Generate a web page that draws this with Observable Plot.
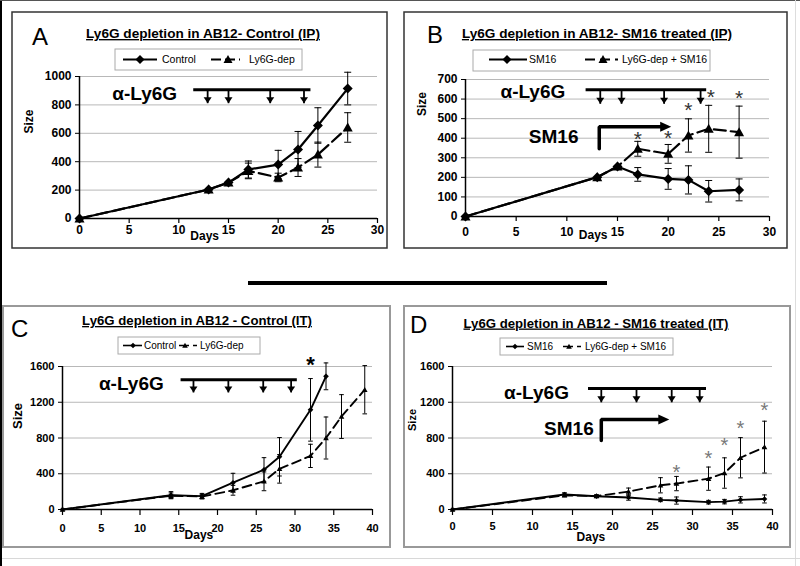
<!DOCTYPE html>
<html><head><meta charset="utf-8">
<script src="https://cdn.jsdelivr.net/npm/d3@7"></script>
<script src="https://cdn.jsdelivr.net/npm/@observablehq/plot@0.6"></script>
<style>
body{margin:0;background:#fff;}
#fig{position:relative;width:800px;height:566px;overflow:hidden;background:#fff;font-family:"Liberation Sans",Arial,sans-serif;}
#fig > svg{position:absolute;}
</style></head><body><div id="fig"></div>
<script>
// ---------- shared tick labels ----------
const xTicksAB = [0,5,10,15,20,25,30];
const xTicksCD = [0,5,10,15,20,25,30,35,40];
const yTicksA = [0,200,400,600,800,1000];
const yTicksB = [0,100,200,300,400,500,600,700];
const yTicksCD = [0,400,800,1200,1600];

const titles = ["Ly6G depletion in AB12- Control (IP)","Ly6G depletion in AB12- SM16 treated (IP)","Ly6G depletion in AB12 - Control (IT)","Ly6G depletion in AB12 - SM16 treated (IT)"];
const letters = ["A","B","C","D"];
const seriesControl = ["Control","Ly6G-dep"];
const seriesSM16 = ["SM16","Ly6G-dep + SM16"];
const xLabel = "Days", yLabel = "Size";
const antiLabel = "α-Ly6G", sm16Label = "SM16", starLabel = "*";

// ---------- panel A ----------
const daysA = [0,13,15,17,20,22,24,27];
const controlA = [0,204,253,345,380,486,655,915];
const controlErrA = [0,0,0,60,100,127,125,115];
const depA = [0,204,253,335,289,359,450,641];
const depErrA = [0,0,0,55,30,63,88,104];
const injA = [12.9,15.0,19.2,22.6];
const barA = [11.5,23.3,906]; const tipA = 812; const antiPosA = [3.3,878];

// ---------- panel B ----------
const daysB = [0,13,15,17,20,22,24,27];
const sm16B = [0,201,255,215,192,187,129,136];
const sm16ErrB = [0,0,0,35,53,72,55,56];
const depSm16B = [0,201,255,346,320,414,448,431];
const depSm16ErrB = [0,0,0,38,48,85,120,133];
const starDaysB = [17,20,22,24.2,27];
const starYB = [426,428,571,640,632];
const injB = [13.3,15.4,19.6,23.2];
const barB = [11.9,23.8,647]; const tipB = 576; const antiPosB = [3.45,635];
const sm16PosB = [6.25,405]; const sm16ArrowB = [13.2,346,458,20.3];

// ---------- panel C ----------
const daysControlC = [0,14,18,22,26,28,32,34];
const controlC = [0,160,150,300,445,590,1115,1490];
const controlErrC = [0,40,30,105,135,215,350,150];
const daysDepC = [0,14,18,22,26,28,32,34,36,39];
const depC = [0,155,145,215,315,455,600,800,1040,1340];
const depErrC = [0,30,25,55,105,160,130,235,245,270];
const starDaysC = [32]; const starYC = [1680];
const injC = [16.9,21.4,25.9,29.5];
const barC = [15.3,30.3,1451]; const tipC = 1310; const antiPosC = [4.7,1404];

// ---------- panel D ----------
const daysD = [0,14,18,22,26,28,32,34,36,39];
const sm16D = [0,168,148,134,108,100,82,88,108,118];
const sm16ErrD = [0,20,15,30,20,40,20,25,35,45];
const depSm16D = [0,158,150,200,271,290,345,408,579,698];
const depSm16ErrD = [0,15,15,40,85,80,130,170,225,290];
const starDaysD = [28,32,34,36,39];
const starYD = [475,631,780,965,1162];
const injD = [18.6,23.0,27.4,30.9];
const barD = [17.0,31.75,1355]; const tipD = 1199; const antiPosD = [6.45,1310];
const sm16PosD = [11.45,902]; const sm16ArrowD = [18.6,772,1006,27.1];

// ---------- custom symbols ----------
const rad = s => Math.sqrt(s/Math.PI);
const diamondSym = {draw(c,s){const w=rad(s);c.moveTo(0,-w);c.lineTo(w,0);c.lineTo(0,w);c.lineTo(-w,0);c.closePath();}};
const triSym = {draw(c,s){const w=rad(s);c.moveTo(0,-w);c.lineTo(w,w*0.8);c.lineTo(-w,w*0.8);c.closePath();}};
const capSym = {draw(c,s){const w=rad(s);c.moveTo(-w,0);c.lineTo(w,0);}};
const arrowDown = {draw(c,s){const w=rad(s);c.moveTo(0,0);c.lineTo(-w,-w*1.5);c.lineTo(w,-w*1.5);c.closePath();}};
const arrowRight = {draw(c,s){const w=rad(s);c.moveTo(0,0);c.lineTo(-w*2.2,-w);c.lineTo(-w*2.2,w);c.closePath();}};

function seriesMarks(days, vals, errs, st) {
  const rows = days.map((d,i)=>({day:d, v:vals[i], e:errs[i]}));
  const er = rows.filter(r=>r.e>0);
  return [
    Plot.ruleX(er, {x:"day", y1:r=>r.v-r.e, y2:r=>r.v+r.e, stroke:"black", strokeWidth:1}),
    Plot.dot(er, {x:"day", y:r=>r.v+r.e, symbol:capSym, r:st.cap, stroke:"black", strokeWidth:1, fill:"none"}),
    Plot.dot(er, {x:"day", y:r=>r.v-r.e, symbol:capSym, r:st.cap, stroke:"black", strokeWidth:1, fill:"none"}),
    Plot.line(rows, {x:"day", y:"v", stroke:"black", strokeWidth:st.lw, strokeDasharray:st.dash}),
    Plot.dot(rows, {x:"day", y:"v", symbol:st.sym, r:st.r, fill:"black", stroke:"none"})
  ];
}

function annotationMarks(a) {
  const m = [
    Plot.text([a.antiPos], {x:d=>d[0], y:d=>d[1], text:()=>antiLabel, textAnchor:"start", fontSize:19, fontWeight:"bold"}),
    Plot.ruleY([a.bar], {y:d=>d[2], x1:d=>d[0], x2:d=>d[1], stroke:"black", strokeWidth:3}),
    Plot.link(a.inj, {x1:d=>d, x2:d=>d, y1:a.bar[2], y2:a.tip, stroke:"black", strokeWidth:1.8}),
    Plot.dot(a.inj, {x:d=>d, y:a.tip, symbol:arrowDown, r:4, fill:"black", stroke:"none"})
  ];
  if (a.sm16Pos) {
    const [x0,y0,y1,x1] = a.sm16Arrow;
    m.push(Plot.text([a.sm16Pos], {x:d=>d[0], y:d=>d[1], text:()=>sm16Label, textAnchor:"start", fontSize:19, fontWeight:"bold"}));
    m.push(Plot.line([[x0,y0],[x0,y1],[x1-a.headDays,y1]], {x:d=>d[0], y:d=>d[1], stroke:"black", strokeWidth:3.5, strokeLinejoin:"miter"}));
    m.push(Plot.dot([[x1,y1]], {x:d=>d[0], y:d=>d[1], symbol:arrowRight, r:5, fill:"black", stroke:"none"}));
  }
  if (a.starDays) {
    const st = a.starDays.map((d,i)=>({day:d, y:a.starY[i]}));
    m.push(Plot.text(st, {x:"day", y:"y", text:()=>starLabel, fontSize:a.starSize, fontWeight:a.starWeight, fill:a.starColor, dy:a.starSize*0.27}));
  }
  return m;
}

function panel(o) {
  const marks = [
    Plot.gridY(o.yTicks, {stroke:"#b8b8b8", strokeOpacity:1, strokeWidth:1}),
    Plot.axisY(o.yTicks, {tickSize:4, tickPadding:4, tickFormat:d=>String(d), label:null, fontSize:o.tickFont, fontWeight:"bold"}),
    Plot.axisX(o.xTicks, {tickSize:o.xTickSize, tickPadding:o.xTickPad, tickFormat:d=>String(d), label:null, fontSize:o.tickFont, fontWeight:"bold", strokeWidth:1.2}),
    Plot.ruleX([0], {stroke:"black", strokeWidth:1.5}),
    Plot.ruleY([0], {stroke:"black", strokeWidth:1.5}),
    Plot.text([xLabel], {x:o.daysX, frameAnchor:"bottom", dy:o.daysDy, fontSize:12, fontWeight:"bold"}),
    Plot.text([yLabel], {frameAnchor:"left", dx:o.sizeDx, dy:o.sizeDy, rotate:-90, fontSize:o.sizeFont, fontWeight:"bold"})
  ];
  o.series.forEach(s => marks.push(...seriesMarks(s.days, s.vals, s.errs, s)));
  marks.push(...annotationMarks(o.ann));
  const svg = Plot.plot({
    width:o.width, height:o.height,
    marginLeft:o.mL, marginRight:o.mR, marginTop:o.mT, marginBottom:o.mB,
    x:{type:"linear", domain:o.xDomain},
    y:{type:"linear", domain:o.yDomain},
    style:{fontFamily:"'Liberation Sans', Arial, sans-serif", fontSize:o.tickFont+"px", fontWeight:"bold", color:"black", background:"transparent", overflow:"visible"},
    marks
  });
  svg.style.left = o.left+"px"; svg.style.top = o.top+"px";
  svg.style.maxWidth = "none";
  document.getElementById("fig").appendChild(svg);
}

const stAB = {lw:2.2, cap:3.5, r:5};
const stCD = {lw:1.9, cap:2.3, r:2.8};

panel({left:12, top:12, width:375, height:236, mL:67, mR:10, mT:64, mB:30,
  xDomain:[0,30], yDomain:[0,1000], xTicks:xTicksAB, yTicks:yTicksA, tickFont:12, xTickSize:5, xTickPad:2,
  daysX:12.6, daysDy:21, sizeDx:-50, sizeDy:-14, sizeFont:12,
  series:[{days:daysA, vals:depA, errs:depErrA, sym:triSym, dash:"12,5", ...stAB},
          {days:daysA, vals:controlA, errs:controlErrA, sym:diamondSym, dash:null, ...stAB}],
  ann:{antiPos:antiPosA, bar:barA, inj:injA, tip:tipA}});

panel({left:404, top:12, width:383, height:236, mL:61, mR:18, mT:67, mB:32,
  xDomain:[0,30], yDomain:[0,700], xTicks:xTicksAB, yTicks:yTicksB, tickFont:12, xTickSize:5, xTickPad:6,
  daysX:12.6, daysDy:22, sizeDx:-43, sizeDy:-32, sizeFont:12,
  series:[{days:daysB, vals:depSm16B, errs:depSm16ErrB, sym:triSym, dash:"12,5", ...stAB},
          {days:daysB, vals:sm16B, errs:sm16ErrB, sym:diamondSym, dash:null, ...stAB}],
  ann:{antiPos:antiPosB, bar:barB, inj:injB, tip:tipB, sm16Pos:sm16PosB, sm16Arrow:sm16ArrowB, headDays:0.9,
       starDays:starDaysB, starY:starYB, starSize:21, starWeight:"normal", starColor:"#333"}});

panel({left:3, top:306, width:387, height:241, mL:59, mR:18, mT:60, mB:38,
  xDomain:[0,40], yDomain:[0,1600], xTicks:xTicksCD, yTicks:yTicksCD, tickFont:11, xTickSize:6, xTickPad:9,
  daysX:17.6, daysDy:29, sizeDx:-45, sizeDy:-9, sizeFont:13,
  series:[{days:daysDepC, vals:depC, errs:depErrC, sym:triSym, dash:"9,5", ...stCD},
          {days:daysControlC, vals:controlC, errs:controlErrC, sym:diamondSym, dash:null, ...stCD}],
  ann:{antiPos:antiPosC, bar:barC, inj:injC, tip:tipC,
       starDays:starDaysC, starY:starYC, starSize:22, starWeight:"bold", starColor:"black"}});

panel({left:404, top:306, width:386, height:241, mL:48, mR:18, mT:60, mB:38,
  xDomain:[0,40], yDomain:[0,1600], xTicks:xTicksCD, yTicks:yTicksCD, tickFont:11, xTickSize:6, xTickPad:7,
  daysX:17.3, daysDy:31, sizeDx:-40, sizeDy:-7, sizeFont:11,
  series:[{days:daysD, vals:depSm16D, errs:depSm16ErrD, sym:triSym, dash:"9,5", ...stCD},
          {days:daysD, vals:sm16D, errs:sm16ErrD, sym:diamondSym, dash:null, ...stCD}],
  ann:{antiPos:antiPosD, bar:barD, inj:injD, tip:tipD, sm16Pos:sm16PosD, sm16Arrow:sm16ArrowD, headDays:1.1,
       starDays:starDaysD, starY:starYD, starSize:20, starWeight:"normal", starColor:"#777"}});

// ---------- overlay: frame, boxes, titles, legends ----------
const ov = d3.select("#fig").append("svg").attr("width",800).attr("height",566)
  .style("left","0px").style("top","0px").style("pointer-events","none")
  .attr("font-family","'Liberation Sans', Arial, sans-serif");
ov.append("line").attr("x1",1).attr("x2",1).attr("y1",0).attr("y2",566).attr("stroke","black").attr("stroke-width",2);
ov.append("line").attr("x1",0).attr("x2",800).attr("y1",0.5).attr("y2",0.5).attr("stroke","#555").attr("stroke-width",1);
ov.append("line").attr("x1",795.5).attr("x2",795.5).attr("y1",0).attr("y2",566).attr("stroke","#ddd").attr("stroke-width",1);
ov.append("line").attr("x1",2).attr("x2",800).attr("y1",558.5).attr("y2",558.5).attr("stroke","#d8d8d8").attr("stroke-width",1);
ov.append("line").attr("x1",248).attr("x2",607).attr("y1",283).attr("y2",283).attr("stroke","black").attr("stroke-width",4);

const boxes = [[12,12,375,236,"#333",1.5],[404,12,383,236,"#333",1.5],[3,306,387,241,"#999",2],[404,306,386,241,"#999",2]];
boxes.forEach(b => ov.append("rect").attr("x",b[0]).attr("y",b[1]).attr("width",b[2]).attr("height",b[3]).attr("fill","none").attr("stroke",b[4]).attr("stroke-width",b[5]));

const titlePos = [[203,38],[597,38],[197,325],[596,327.5]];
const titleSize = [13.6,13.6,13.2,13.2];
titles.forEach((t,i)=> ov.append("text").attr("x",titlePos[i][0]).attr("y",titlePos[i][1]).attr("text-anchor","middle")
  .attr("font-size",titleSize[i]).attr("font-weight","bold").style("text-decoration","underline").text(t));
const letterPos = [[32,45],[427,43],[11,337],[410,333]];
letters.forEach((t,i)=> ov.append("text").attr("x",letterPos[i][0]).attr("y",letterPos[i][1]).attr("font-size",24).text(t));

function legend(L, names) {
  ov.append("rect").attr("x",L.x).attr("y",L.y).attr("width",L.w).attr("height",L.h).attr("fill","white").attr("stroke","#aaa");
  L.items.forEach((it,i) => {
    ov.append("line").attr("x1",it.x1).attr("x2",it.x2).attr("y1",L.cy).attr("y2",L.cy)
      .attr("stroke","black").attr("stroke-width",L.lw).attr("stroke-dasharray",it.dash||null);
    ov.append("path").attr("d", d3.symbol(it.sym, Math.PI*L.r*L.r)()).attr("transform",`translate(${it.mx},${L.cy})`).attr("fill","black");
    ov.append("text").attr("x",it.tx).attr("y",L.cy+L.fs*0.36).attr("font-size",L.fs).text(names[i]);
  });
}
legend({x:115,y:49,w:187,h:21,cy:59.5,lw:2,r:4.5,fs:10.5,items:[
  {x1:123,x2:157,mx:140,tx:162,sym:diamondSym},
  {x1:211,x2:240,mx:228,tx:249,sym:triSym,dash:"10,4"}]}, seriesControl);
legend({x:473,y:50,w:237,h:21,cy:59.5,lw:2,r:4.5,fs:10.5,items:[
  {x1:489,x2:527,mx:507,tx:529,sym:diamondSym},
  {x1:585,x2:618,mx:603,tx:622,sym:triSym,dash:"10,5"}]}, seriesSM16);
legend({x:118,y:337,w:142,h:17,cy:345.5,lw:1.6,r:2.8,fs:10,items:[
  {x1:123,x2:142,mx:133,tx:144,sym:diamondSym},
  {x1:179,x2:198,mx:185,tx:200,sym:triSym,dash:"10,4,4,10"}]}, seriesControl);
legend({x:500,y:338,w:173,h:17,cy:346.5,lw:1.6,r:2.8,fs:10,items:[
  {x1:506,x2:524,mx:515,tx:527,sym:diamondSym},
  {x1:563,x2:582,mx:569,tx:585,sym:triSym,dash:"10,4,4,10"}]}, seriesSM16);
</script></body></html>
